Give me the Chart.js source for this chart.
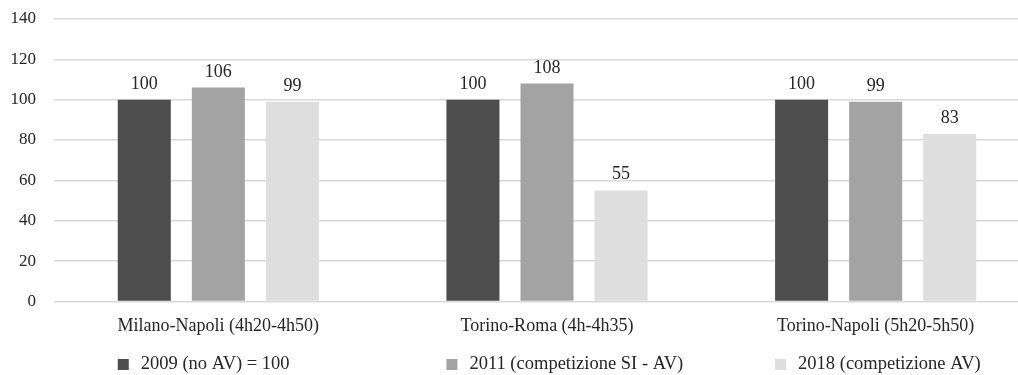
<!DOCTYPE html>
<html>
<head>
<meta charset="utf-8">
<script src="https://cdn.jsdelivr.net/npm/chart.js@4"></script>
<style>
  html, body { margin: 0; padding: 0; background: #fff; overflow: hidden; }
  #wrap { width: 1018px; height: 375px; overflow: hidden; position: relative; }
  canvas { display: block; }
</style>
</head>
<body>
<div id="wrap"><canvas id="chart" width="1044" height="375"></canvas></div>
<script>
// categories and series
const routes  = ['Milano-Napoli (4h20-4h50)', 'Torino-Roma (4h-4h35)', 'Torino-Napoli (5h20-5h50)'];
const seriesNames = ['2009 (no AV) = 100', '2011 (competizione SI - AV)', '2018 (competizione AV)'];
const val2009 = [100, 100, 100];
const val2011 = [106, 108, 99];
const val2018 = [99, 55, 83];
const yTicks  = [0, 20, 40, 60, 80, 100, 120, 140];
const shades  = ['#4d4d4d', '#a3a3a3', '#dedede'];

const FONT = 'Liberation Serif, Times New Roman, serif';
const INK = '#262626';

// value labels over each bar
const barLabels = {
  id: 'barLabels',
  afterDatasetsDraw(chart) {
    const ctx = chart.ctx;
    ctx.save();
    ctx.font = '18px ' + FONT;
    ctx.fillStyle = INK;
    ctx.textAlign = 'center';
    ctx.textBaseline = 'alphabetic';
    chart.data.datasets.forEach((ds, i) => {
      chart.getDatasetMeta(i).data.forEach((bar, j) => {
        ctx.fillText(String(ds.data[j]), bar.x, bar.y - 11);
      });
    });
    ctx.restore();
  }
};

// legend: one entry under each group, starting at its first bar
const groupLegend = {
  id: 'groupLegend',
  afterDraw(chart) {
    const ctx = chart.ctx;
    const first = chart.getDatasetMeta(0).data;
    ctx.save();
    ctx.font = '18.5px ' + FONT;
    ctx.textBaseline = 'middle';
    ctx.textAlign = 'left';
    const y = 364;
    chart.data.datasets.forEach((ds, i) => {
      const x = first[i].x - first[i].width / 2;
      ctx.fillStyle = ds.backgroundColor;
      ctx.fillRect(x, y - 5, 11, 11);
      ctx.fillStyle = INK;
      ctx.fillText(ds.label, x + 23, y);
    });
    ctx.restore();
  }
};

new Chart(document.getElementById('chart'), {
  type: 'bar',
  data: {
    labels: routes,
    datasets: [val2009, val2011, val2018].map((d, i) => ({
      label: seriesNames[i],
      data: d,
      backgroundColor: shades[i],
      borderWidth: 0,
      categoryPercentage: 0.676,
      barPercentage: 0.716
    }))
  },
  options: {
    responsive: false,
    animation: false,
    layout: { padding: { left: 12, right: 4, top: 19, bottom: 24 } },
    plugins: { legend: { display: false }, tooltip: { enabled: false } },
    scales: {
      x: {
        grid: { display: false, drawTicks: false },
        border: { display: false },
        ticks: { color: INK, font: { family: FONT, size: 18 }, padding: 14, maxRotation: 0 }
      },
      y: {
        min: 0, max: 140,
        afterBuildTicks: axis => { axis.ticks = yTicks.map(v => ({ value: v })); },
        afterFit: axis => { axis.width = 42; axis.paddingTop = 0; axis.paddingBottom = 0; },
        grid: { color: '#d9d9d9', lineWidth: 1.5, drawTicks: false },
        border: { display: false },
        ticks: { color: INK, font: { family: FONT, size: 17 }, padding: 18 }
      }
    }
  },
  plugins: [barLabels, groupLegend]
});
</script>
</body>
</html>
